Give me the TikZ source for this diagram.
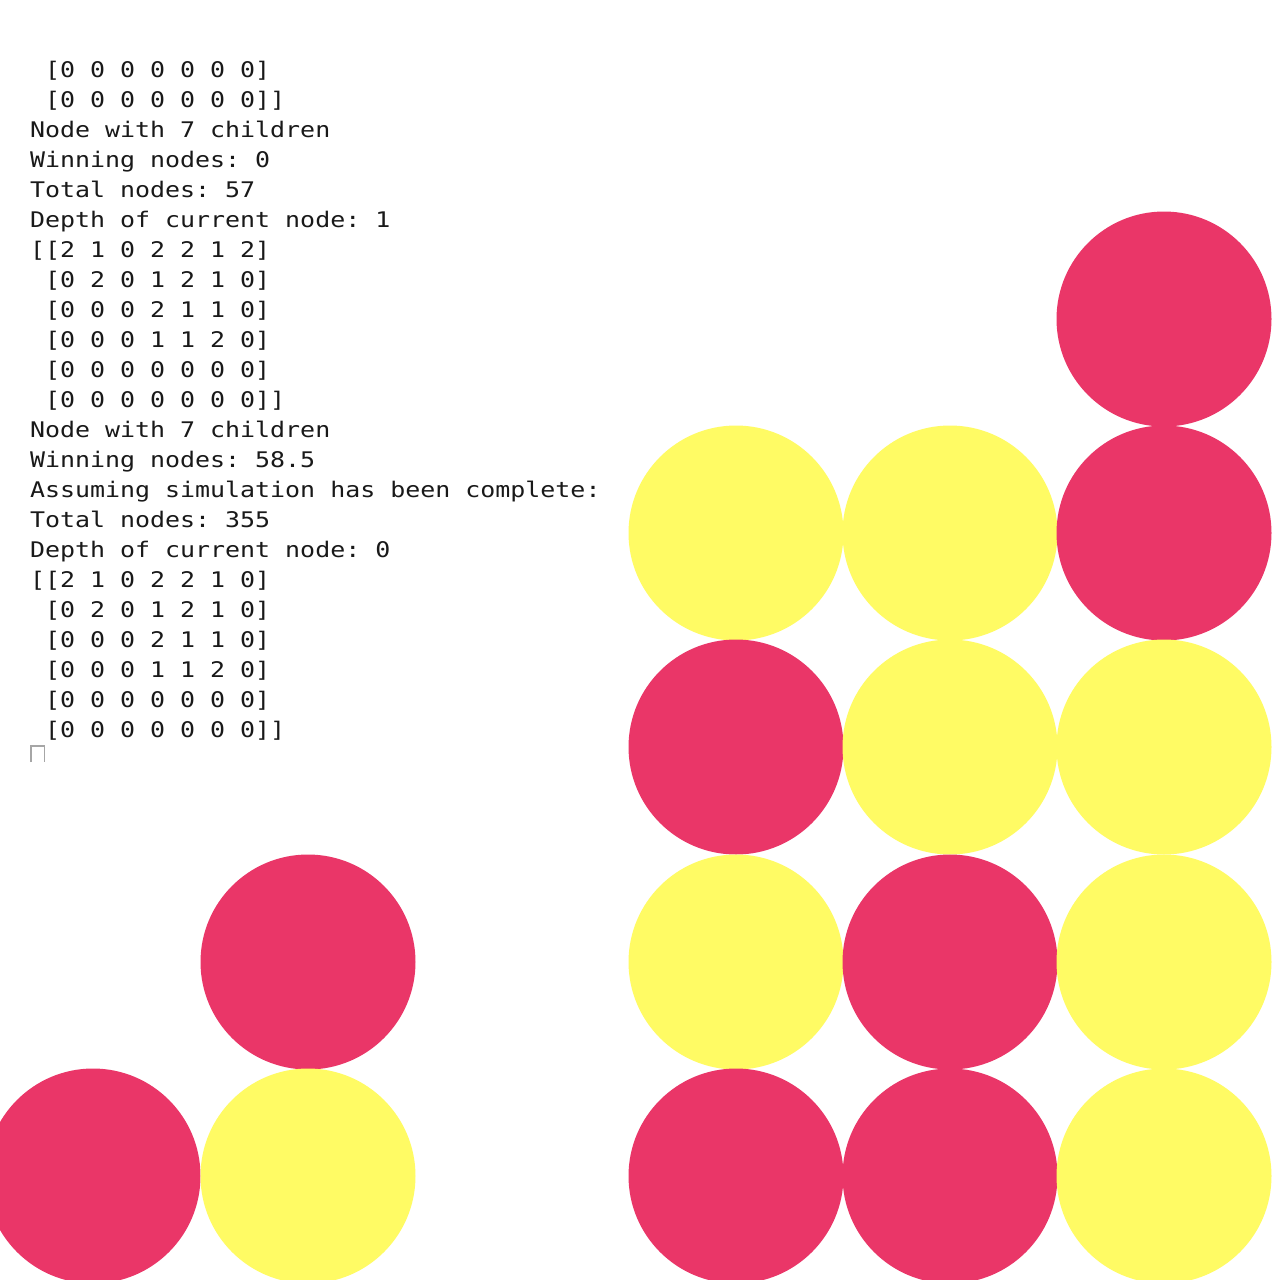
\documentclass[tikz,border=0pt]{standalone}
\usepackage{fontspec}
\newfontfamily\termfont[FakeStretch=1.16,RawFeature=+zero]{DejaVu Sans Mono}
\definecolor{discred}{RGB}{234,54,104}
\definecolor{discyel}{RGB}{255,251,100}
\definecolor{termtxt}{RGB}{25,25,25}
\begin{document}
\begin{tikzpicture}[x=1pt,y=-1pt,
  termline/.style={anchor=base west,inner sep=0pt,outer sep=0pt,text=termtxt,
    font=\termfont\fontsize{21.5pt}{30pt}\selectfont\frenchspacing},
  reddisc/.style={fill=discred},
  yeldisc/.style={fill=discyel}]
\useasboundingbox (0,0) rectangle (1280,1280);
\clip (0,0) rectangle (1280,1280);
\fill[white] (0,0) rectangle (1280,1280);
% board discs
\def\R{107.5}
\fill[reddisc] (1164,319) circle (\R);
\fill[yeldisc] (736,533) circle (\R);
\fill[yeldisc] (950,533) circle (\R);
\fill[reddisc] (1164,533) circle (\R);
\fill[reddisc] (736,747) circle (\R);
\fill[yeldisc] (950,747) circle (\R);
\fill[yeldisc] (1164,747) circle (\R);
\fill[reddisc] (308,962) circle (\R);
\fill[yeldisc] (736,962) circle (\R);
\fill[reddisc] (950,962) circle (\R);
\fill[yeldisc] (1164,962) circle (\R);
\fill[reddisc] (93,1176) circle (\R);
\fill[yeldisc] (308,1176) circle (\R);
\fill[reddisc] (736,1176) circle (\R);
\fill[reddisc] (950,1176) circle (\R);
\fill[yeldisc] (1164,1176) circle (\R);
% terminal text
\node[termline] (l1)  at (45,77.3)  {[0 0 0 0 0 0 0]};
\node[termline] (l2)  at (45,107.3) {[0 0 0 0 0 0 0]]};
\node[termline] (l3)  at (30,137.3) {Node with 7 children};
\node[termline] (l4)  at (30,167.3) {Winning nodes: 0};
\node[termline] (l5)  at (30,197.3) {Total nodes: 57};
\node[termline] (l6)  at (30,227.3) {Depth of current node: 1};
\node[termline] (l7)  at (30,257.3) {[[2 1 0 2 2 1 2]};
\node[termline] (l8)  at (45,287.3) {[0 2 0 1 2 1 0]};
\node[termline] (l9)  at (45,317.3) {[0 0 0 2 1 1 0]};
\node[termline] (l10) at (45,347.3) {[0 0 0 1 1 2 0]};
\node[termline] (l11) at (45,377.3) {[0 0 0 0 0 0 0]};
\node[termline] (l12) at (45,407.3) {[0 0 0 0 0 0 0]]};
\node[termline] (l13) at (30,437.3) {Node with 7 children};
\node[termline] (l14) at (30,467.3) {Winning nodes: 58.5};
\node[termline] (l15) at (30,497.3) {Assuming simulation has been complete:};
\node[termline] (l16) at (30,527.3) {Total nodes: 355};
\node[termline] (l17) at (30,557.3) {Depth of current node: 0};
\node[termline] (l18) at (30,587.3) {[[2 1 0 2 2 1 0]};
\node[termline] (l19) at (45,617.3) {[0 2 0 1 2 1 0]};
\node[termline] (l20) at (45,647.3) {[0 0 0 2 1 1 0]};
\node[termline] (l21) at (45,677.3) {[0 0 0 1 1 2 0]};
\node[termline] (l22) at (45,707.3) {[0 0 0 0 0 0 0]};
\node[termline] (l23) at (45,737.3) {[0 0 0 0 0 0 0]]};
% cursor
\draw[gray!70,line width=1.5pt] (30.75,762) -- (30.75,745.75) -- (44.25,745.75) -- (44.25,762);
\end{tikzpicture}
\end{document}
